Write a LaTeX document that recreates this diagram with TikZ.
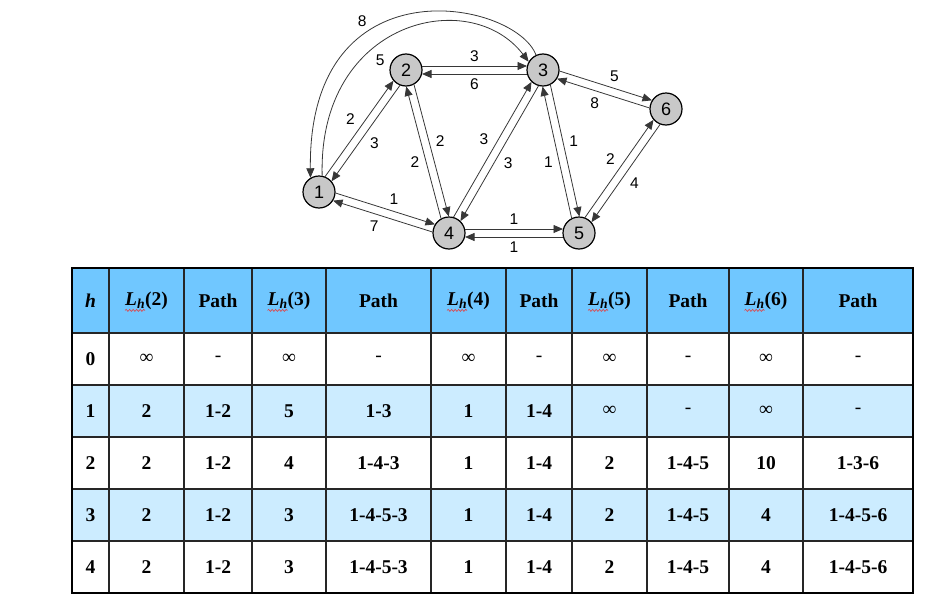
\documentclass[tikz,border=0pt]{standalone}
\usepackage{fontspec}
\setmainfont{Liberation Serif}
\newfontfamily\graphfont{Liberation Sans}
\usepackage{tikz}
\usetikzlibrary{arrows.meta,calc,decorations.pathmorphing}
\usepackage{xcolor}
\definecolor{tbhead}{RGB}{112,199,255}
\definecolor{tbrow}{RGB}{204,236,255}
\definecolor{vxfill}{RGB}{200,200,200}
\definecolor{edgegray}{RGB}{55,55,55}
\definecolor{spellred}{RGB}{230,60,60}
\tikzstyle{vertex} = [circle, draw, line width=1.2pt, fill=vxfill, minimum size=32pt, inner sep=0pt, font=\graphfont\fontsize{18}{18}\selectfont]
\tikzstyle{dirarc} = [draw=edgegray, line width=0.8pt, -{Triangle[length=9.5pt,width=8pt]}, to path={($($(\tikztostart)!16pt!(\tikztotarget)$)!4pt!90:(\tikztotarget)$) -- ($($(\tikztotarget)!16pt!(\tikztostart)$)!4pt!-90:(\tikztostart)$) \tikztonodes}]
\tikzstyle{loopedge} = [draw=edgegray, line width=0.8pt, -{Triangle[length=9.5pt,width=8pt]}]
\tikzstyle{wlabel} = [auto, inner sep=4pt, font=\graphfont\fontsize{15.5}{15.5}\selectfont]
\tikzstyle{tcell} = [font=\fontsize{19.5}{20}\selectfont\bfseries]
\tikzstyle{gridline} = [line width=1.2pt, draw=black!85]
\tikzstyle{squiggle} = [draw=spellred, line width=0.6pt, decorate, decoration={snake, amplitude=1pt, segment length=3.5pt}]
\newcommand{\Lh}[1]{\textit{L}\textsubscript{\textit{h}}(#1)}
\newcommand{\infy}{\textmd{∞}}
\newcommand{\nopath}{\textmd{-}}

\begin{document}
\begin{tikzpicture}[x=1pt, y=-1pt]
\useasboundingbox (0,0) rectangle (936,605);
% Graph
\node[vertex] (n1) at (319,192) {1};
\node[vertex] (n2) at (406,70) {2};
\node[vertex] (n3) at (543,70) {3};
\node[vertex] (n4) at (449,233) {4};
\node[vertex] (n5) at (579,233) {5};
\node[vertex] (n6) at (666,109) {6};

% Edges, each direction on its own left side
\draw[dirarc] (n1) to node[wlabel] (w12) {2} (n2);
\draw[dirarc] (n2) to node[wlabel] (w21) {3} (n1);
\draw[dirarc] (n2) to node[wlabel] (w23) {3} (n3);
\draw[dirarc] (n3) to node[wlabel] (w32) {6} (n2);
\draw[dirarc] (n1) to node[wlabel] (w14) {1} (n4);
\draw[dirarc] (n4) to node[wlabel] (w41) {7} (n1);
\draw[dirarc] (n2) to node[wlabel] (w24) {2} (n4);
\draw[dirarc] (n4) to node[wlabel] (w42) {2} (n2);
\draw[dirarc] (n4) to node[wlabel] (w43) {3} (n3);
\draw[dirarc] (n3) to node[wlabel] (w34) {3} (n4);
\draw[dirarc] (n4) to node[wlabel] (w45) {1} (n5);
\draw[dirarc] (n5) to node[wlabel] (w54) {1} (n4);
\draw[dirarc] (n3) to node[wlabel] (w35) {1} (n5);
\draw[dirarc] (n5) to node[wlabel] (w53) {1} (n3);
\draw[dirarc] (n3) to node[wlabel] (w36) {5} (n6);
\draw[dirarc] (n6) to node[wlabel] (w63) {8} (n3);
\draw[dirarc] (n5) to node[wlabel] (w56) {2} (n6);
\draw[dirarc] (n6) to node[wlabel] (w65) {4} (n5);

% Long way round between 1 and 3
\draw[loopedge] (n3.115) .. controls (515,0) and (308,-40) .. (n1.121) node[wlabel, swap, pos=0.64] (w31) {8};
\draw[loopedge] (n1.79) .. controls (318,20) and (470,-15) .. (n3.150) node[wlabel, swap, pos=0.38] (w13) {5};

% Table
\fill[tbhead] (72,268) rectangle (913,333);
\fill[tbrow] (72,385) rectangle (913,437);
\fill[tbrow] (72,489) rectangle (913,541);
\foreach \x in {109,184,252,326,431,506,572,647,729,803}
  \draw[gridline] (\x,268) -- (\x,593);
\foreach \y in {333,385,437,489,541}
  \draw[gridline] (72,\y) -- (913,\y);
\draw[line width=2.6pt] (72,268) rectangle (913,593);

\foreach \y/\cells [count=\r] in {
  300.5/{\textit{h},\Lh{2},Path,\Lh{3},Path,\Lh{4},Path,\Lh{5},Path,\Lh{6},Path},
  359/{0,\infy,\nopath,\infy,\nopath,\infy,\nopath,\infy,\nopath,\infy,\nopath},
  411/{1,2,1-2,5,1-3,1,1-4,\infy,\nopath,\infy,\nopath},
  463/{2,2,1-2,4,1-4-3,1,1-4,2,1-4-5,10,1-3-6},
  515/{3,2,1-2,3,1-4-5-3,1,1-4,2,1-4-5,4,1-4-5-6},
  567/{4,2,1-2,3,1-4-5-3,1,1-4,2,1-4-5,4,1-4-5-6}}
  \foreach \c [count=\i] in \cells {
    \pgfmathsetmacro\cx{{90.5,146.5,218,289,378.5,468.5,539,609.5,688,766,858}[\i-1]}
    \node[tcell] (c\r-\i) at (\cx,\y) {\c};
  }

% Spell-check marks under L_h
\foreach \i in {2,4,6,8,10}
  \draw[squiggle] ($(c1-\i.south west)+(3.5,-2.5)$) -- ++(20,0);
\end{tikzpicture}
\end{document}
